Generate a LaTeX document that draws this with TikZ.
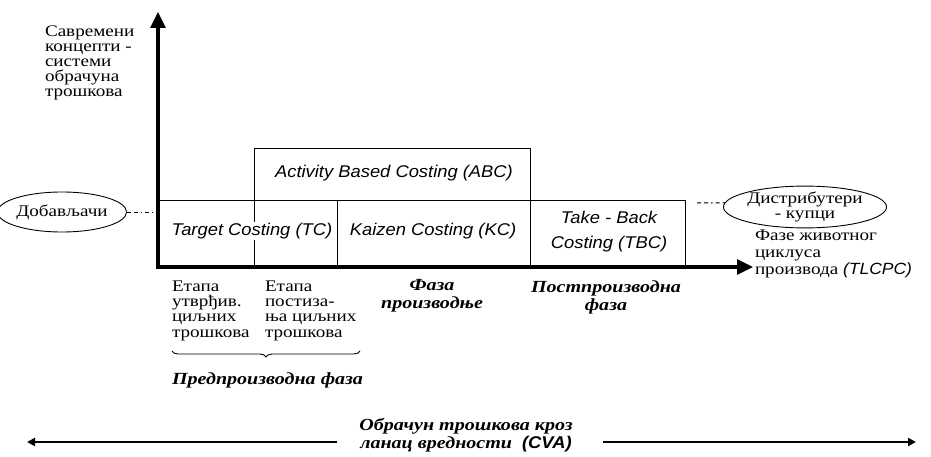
\documentclass[tikz,border=0pt]{standalone}
\usepackage{fontspec}
\setmainfont{Liberation Serif}[Script=Cyrillic, Language=Serbian, FakeStretch=1.18]
\newfontfamily\latinsans{Liberation Sans}[FakeStretch=1.08]
\usetikzlibrary{arrows.meta, shapes.geometric, decorations.pathreplacing}

\begin{document}
\begin{tikzpicture}[
		x=1pt, y=-1pt,
		every node/.style={inner sep=0pt, outer sep=0pt},
		axis/.style={line width=3.2pt, {Triangle[length=16pt, width=15pt]}-{Triangle[length=16pt, width=15pt]}},
		costbox/.style={draw, line width=0.9pt, anchor=north west},
		costtext/.style={font=\latinsans\itshape\fontsize{17}{25}\selectfont, align=center},
		cyr/.style={font=\fontsize{16.2}{15.2}\selectfont, align=left, anchor=base west},
		phase/.style={font=\bfseries\itshape\fontsize{17}{18}\selectfont, align=center, anchor=base},
		partner/.style={draw, ellipse, line width=0.9pt, font=\fontsize{16.2}{14.5}\selectfont, align=center},
		dashdot/.style={line width=1pt, dash pattern=on 4pt off 3pt on 4pt off 3pt on 1.5pt off 3pt},
		chain/.style={line width=2pt, -{Triangle[length=8pt, width=8pt]}}
		]
	\useasboundingbox (0,0) rectangle (931,457);
	
	% Cost boxes
	\node[costbox, minimum width=276pt, minimum height=52pt] (abc) at (254,148) {};
	\node[costbox, minimum width=179pt, minimum height=67pt] (tc) at (158,200) {};
	\node[costbox, minimum width=193pt, minimum height=67pt] (kc) at (337,200) {};
	\node[costbox, minimum width=155pt, minimum height=67pt] (tbc) at (530,200) {};
	\draw[line width=0.9pt] (abc.south west) -- (abc.south west |- tc.south);
	
	\node[costtext] (abctext) at (394,173) {Activity Based Costing (ABC)};
	\node[costtext, fill=white, inner sep=1pt] (tctext) at (252,231) {Target Costing (TC)};
	\node[costtext] (kctext) at (433,231) {Kaizen Costing (KC)};
	\node[costtext] (tbctext) at (609,232) {Take - Back\\Costing (TBC)};
	
	% Axes
	\coordinate (ytip) at (158,12);
	\coordinate (origin) at (158,267);
	\coordinate (xtip) at (753,267);
	\draw[axis] (ytip) -- (origin) -- (xtip);
	
	% multi-line nodes: base = last line
	\node[cyr] (concepts) at (45,97) {Савремени\\концепти -\\системи\\обрачуна\\трошкова};
	\node[cyr, font=\fontsize{16.2}{17}\selectfont] (lifecycle) at (755,274) {Фазе животног\\циклуса\\производа {\latinsans\itshape (TLCPC)}};
	
	% Partners
	\node[partner, minimum width=101pt, minimum height=40pt] (suppliers) at (62,212) {Добављачи};
	\node[partner, minimum width=135pt, minimum height=35pt] (distrib) at (805,207) {Дистрибутери\\- купци};
	\coordinate (suppliersend) at (153,212);
	\coordinate (distribstart) at (697,203);
	\draw[dashdot] (suppliers) -- (suppliersend);
	\draw[dashdot] (distribstart) -- (distrib.177);
	
	% Phases
	\node[cyr] (stage1) at (172,337) {Етапа\\утврђив.\\циљних\\трошкова};
	\node[cyr] (stage2) at (265,337) {Етапа\\постиза-\\ња циљних\\трошкова};
	\coordinate (braceright) at (360,351);
	\coordinate (braceleft) at (172,351);
	\draw[decorate, decoration={brace, amplitude=6pt}, line width=0.9pt] (braceright) -- (braceleft);
	\node[phase, anchor=base west] (prephase) at (172,384) {Предпроизводна фаза};
	\node[phase] (prodphase) at (432,308) {Фаза\\производње};
	\node[phase] (postphase) at (606,310) {Постпроизводна\\фаза};
	
	% Value chain
	\node[phase] (cva) at (466,448) {Обрачун трошкова кроз\\ланац вредности \ {\latinsans\bfseries\itshape (CVA)}};
	\coordinate (cvaleft) at (337,442);
	\coordinate (lefttip) at (27,442);
	\coordinate (cvaright) at (603,442);
	\coordinate (righttip) at (916,442);
	\draw[chain] (cvaleft) -- (lefttip);
	\draw[chain] (cvaright) -- (righttip);
	
\end{tikzpicture}
\end{document}
